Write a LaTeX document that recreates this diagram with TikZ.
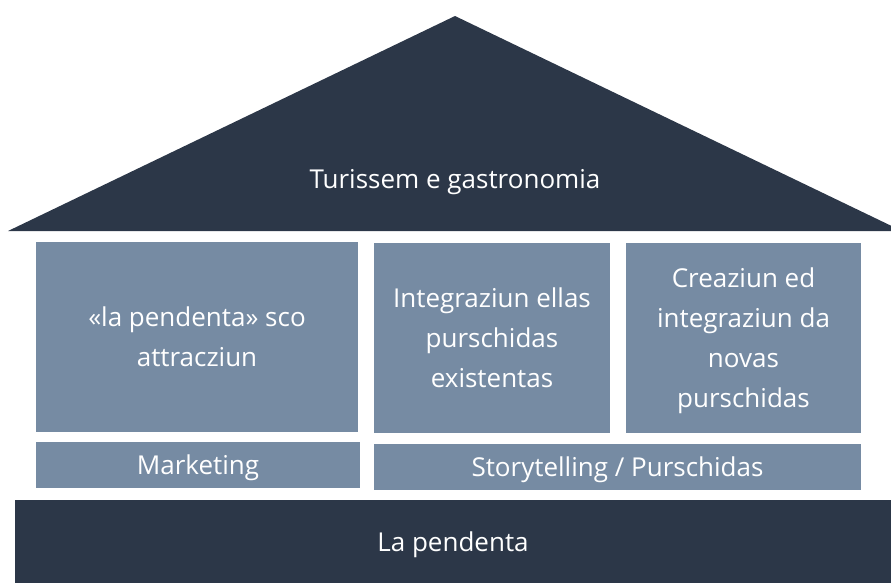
\documentclass[tikz,border=0pt]{standalone}
\usepackage{fontspec}
\setmainfont{Open Sans}
\usetikzlibrary{positioning}
\definecolor{navy}{HTML}{2C3748}
\definecolor{slate}{HTML}{768BA3}
\tikzstyle{block} = [rectangle, fill=slate, text=white, inner sep=0pt, text depth=0pt, align=center]
\tikzstyle{pillar} = [block, minimum height=142pt]
\tikzstyle{band} = [block, minimum height=34.5pt]
\tikzstyle{floor} = [rectangle, fill=navy, text=white, inner sep=0pt, text depth=0pt, minimum width=657pt, minimum height=62.25pt]

\begin{document}
\begin{tikzpicture}[x=0.75pt, y=-0.75pt, font=\fontsize{19.5}{30}\selectfont]
\useasboundingbox (0,0) rectangle (891,583);
\clip (0,0) rectangle (891,583);
% Roof
\coordinate (eaveL) at (8,231);
\coordinate (apex) at (455,16);
\coordinate (eaveR) at (902,231);
\fill [navy] (eaveL) -- (apex) -- (eaveR) -- cycle;
\node (roof) [text=white] at (455,182) {Turissem e gastronomia};

% Pillars
\node (attraction) [pillar, minimum width=241.5pt] at (197,337) {«la pendenta» sco\\attracziun};
\node (existing) [pillar, minimum width=177pt] at (492,338) {Integraziun ellas\\purschidas\\existentas};
\node (novel) [pillar, minimum width=176.25pt] at (743.5,338) {Creaziun ed\\integraziun da\\novas\\purschidas};

% Bands
\node (marketing) [band, minimum width=243pt] at (198,465) {Marketing};
\node (storytelling) [band, minimum width=365.25pt] at (617.5,467) {Storytelling / Purschidas};

% Foundation
\node (base) [floor] at (453,541.5) {La pendenta};
\end{tikzpicture}
\end{document}
